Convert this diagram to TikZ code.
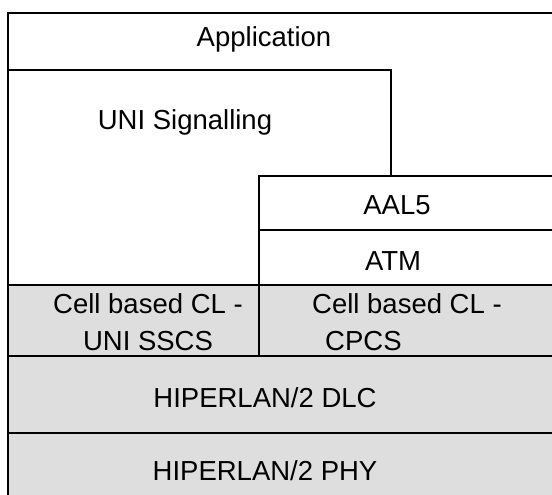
\documentclass[tikz,border=0pt]{standalone}
\usepackage{fontspec}
\setmainfont{Liberation Sans}
\tikzset{
  layer/.style={draw,line width=1.3pt,fill=white},
  grey/.style={layer,fill=black!13},
  lbl/.style={inner sep=0pt,font=\fontsize{27.5}{37}\selectfont}
}

\begin{document}
\begin{tikzpicture}[x=1pt,y=-1pt]
\useasboundingbox (0,0) rectangle (552,495);
\clip (0,0) rectangle (552,495);
% stack outline
\draw[layer] (8,13) rectangle (562,505);
\draw[layer] (8,70) rectangle (391,285);
\draw[layer] (259,176) rectangle (562,230);
\draw[layer] (259,230) rectangle (562,285);
% grey layers
\draw[grey] (8,285) rectangle (259,356);
\draw[grey] (259,285) rectangle (562,356);
\draw[grey] (8,356) rectangle (562,433);
\draw[grey] (8,433) rectangle (562,505);
% labels
\node[lbl] (app) at (264,39) {Application};
\node[lbl] (uni) at (185,122) {UNI Signalling};
\node[lbl] (aal) at (397,205) {AAL5};
\node[lbl] (atm) at (393,261) {ATM};
\node[lbl,align=center] (sscs) at (148,322) {Cell based CL -\\UNI SSCS};
\node[lbl,align=left,anchor=west] (cpcs) at (312,322) {Cell based CL -\\\hspace*{13pt}CPCS};
\node[lbl] (dlc) at (265,398) {HIPERLAN/2 DLC};
\node[lbl] (phy) at (265,471) {HIPERLAN/2 PHY};
\end{tikzpicture}
\end{document}
